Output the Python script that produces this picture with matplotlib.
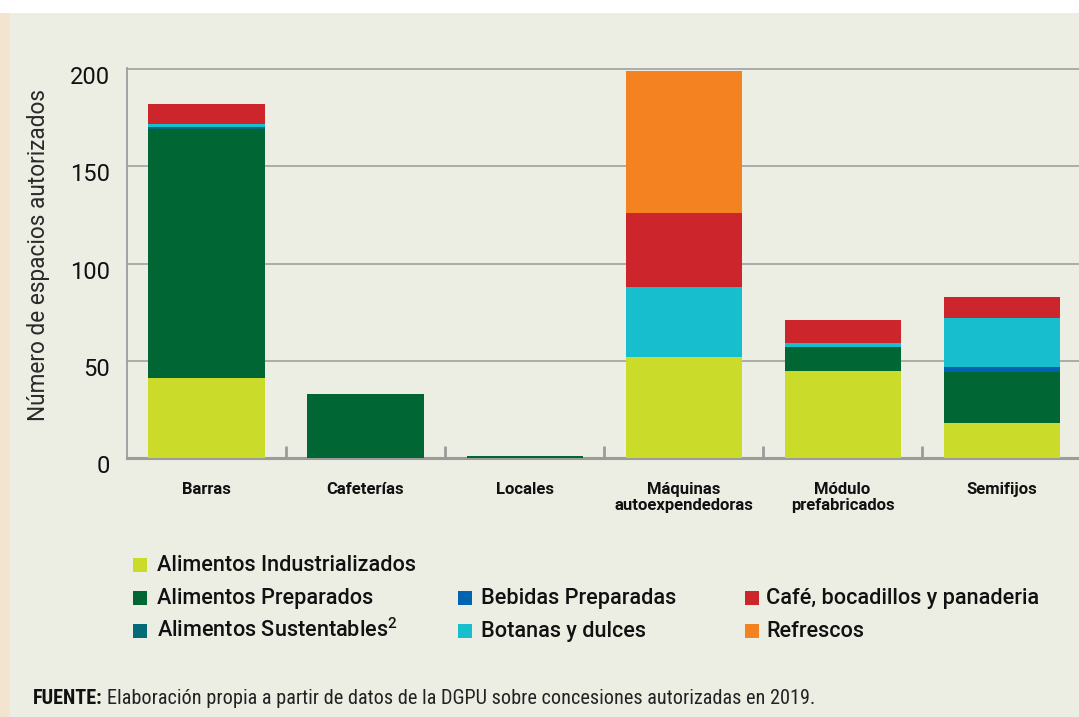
import matplotlib
matplotlib.use("Agg")
import matplotlib.pyplot as plt
import numpy as np
from matplotlib.patches import Rectangle
from matplotlib.transforms import ScaledTranslation

# ---- data ----
categories = ['Barras', 'Cafeterías', 'Locales', 'Máquinas\nautoexpendedoras',
              'Módulo\nprefabricados', 'Semifijos']
alim_industrializados = [41, 0, 0, 52, 45, 18]
alim_preparados = [128, 33, 1, 0, 12, 26]
alim_sustentables = [1, 0, 0, 0, 0, 0]
bebidas_preparadas = [0, 0, 0, 0, 0, 3]
botanas_dulces = [2, 0, 0, 36, 2, 25]
cafe_bocadillos = [10, 0, 0, 38, 12, 11]
refrescos = [0, 0, 0, 73, 0, 0]
yticks = [0, 50, 100, 150, 200]

series = [
    ('Alimentos Industrializados', alim_industrializados, '#CBDB2A'),
    ('Alimentos Preparados', alim_preparados, '#006633'),
    ('Alimentos Sustentables$^{\\mathregular{2}}$', alim_sustentables, '#036B78'),
    ('Bebidas Preparadas', bebidas_preparadas, '#0064B0'),
    ('Botanas y dulces', botanas_dulces, '#16BECE'),
    ('Café, bocadillos y panaderia', cafe_bocadillos, '#CC252C'),
    ('Refrescos', refrescos, '#F58220'),
]

BG = '#ECEEE4'
W, H = 1079, 717
fig = plt.figure(figsize=(W / 100, H / 100), dpi=100, facecolor=BG)
plt.rcParams['font.family'] = ['Roboto', 'DejaVu Sans']

# decorative background bands
fig.patches.append(Rectangle((0, 1 - 13 / H), 1, 13 / H, transform=fig.transFigure,
                             facecolor='white', edgecolor='none', zorder=0))
fig.patches.append(Rectangle((0, 0), 10 / W, 1 - 13 / H, transform=fig.transFigure,
                             facecolor='#F3E4CF', edgecolor='none', zorder=0))

ax = fig.add_axes([127 / W, 1 - 458 / H, 1 - 127 / W + 0.002, (458 - 68) / H])
ax.set_facecolor(BG)

x = np.arange(len(categories))
bottom = np.zeros(len(categories))
for name, vals, col in series:
    v = np.array(vals, dtype=float)
    ax.bar(x, v, width=0.73, bottom=bottom, color=col, zorder=3, linewidth=0)
    bottom += v

ax.set_xlim(-0.5, 5.5)
ax.set_ylim(0, 200.6)
ax.set_yticks(yticks)
ax.set_yticklabels([str(t) for t in yticks], fontsize=17, color='#111111')
ax.yaxis.grid(True, color='#9b9b9b', linewidth=1.1, zorder=1)
ax.set_axisbelow(True)
ax.tick_params(axis='y', length=0, pad=12)

ax.set_xticks(x)
ax.set_xticklabels(categories, fontsize=12, fontweight='semibold', color='#111111',
                   linespacing=1.1)
ax.set_xticks(np.arange(0.5, 5.0, 1.0), minor=True)
ax.tick_params(axis='x', which='major', length=0, pad=17)
ax.tick_params(axis='x', which='minor', length=9, width=2, direction='in', color='#9b9b9b')

for s in ['top', 'right']:
    ax.spines[s].set_visible(False)
ax.spines['left'].set_color('#9b9b9b')
ax.spines['left'].set_linewidth(1.3)
ax.spines['bottom'].set_color('#9b9b9b')
ax.spines['bottom'].set_linewidth(2.2)
ax.spines['bottom'].set_zorder(2)

ax.set_ylabel('Número de espacios autorizados', fontsize=16.3, color='#2a2a2a')
ax.yaxis.set_label_coords(-(127 - 50) / (W - 127), 0.5 + 8 / 390)

off = ScaledTranslation(0, -6 / 100, fig.dpi_scale_trans)
for lab in ax.get_yticklabels():
    lab.set_transform(lab.get_transform() + off)

# ---- legend (manual layout) ----
legend_layout = [
    (0, 133, 157, 565), (1, 133, 157, 598), (2, 133, 157, 631),
    (3, 458, 481, 598), (4, 458, 481, 631),
    (5, 745, 766, 598), (6, 745, 766, 631),
]
sq = 14
for idx, xs, xt, yc in legend_layout:
    name, vals, col = series[idx]
    fig.patches.append(Rectangle((xs / W, 1 - (yc + sq / 2) / H), sq / W, sq / H,
                                 transform=fig.transFigure, facecolor=col,
                                 edgecolor='none'))
    fig.text(xt / W, 1 - (yc + 6) / H, name, fontsize=15.6, fontweight='medium',
             color='#111111', va='baseline', ha='left')

# ---- footer ----
narrow = ['Liberation Sans Narrow', 'Roboto Condensed', 'Roboto', 'DejaVu Sans']
t1 = fig.text(33 / W, 1 - 698 / H, 'FUENTE:', fontsize=14.6, fontweight='bold',
              family=narrow, color='#111111', va='center', ha='left')
fig.canvas.draw()
bb = t1.get_window_extent()
fig.text((bb.x1 + 4) / W, 1 - 698 / H,
         'Elaboración propia a partir de datos de la DGPU sobre concesiones autorizadas en 2019.',
         fontsize=14.6, family=narrow, color='#222222', va='center', ha='left')

fig.savefig('out.png', dpi=100, facecolor=BG)
